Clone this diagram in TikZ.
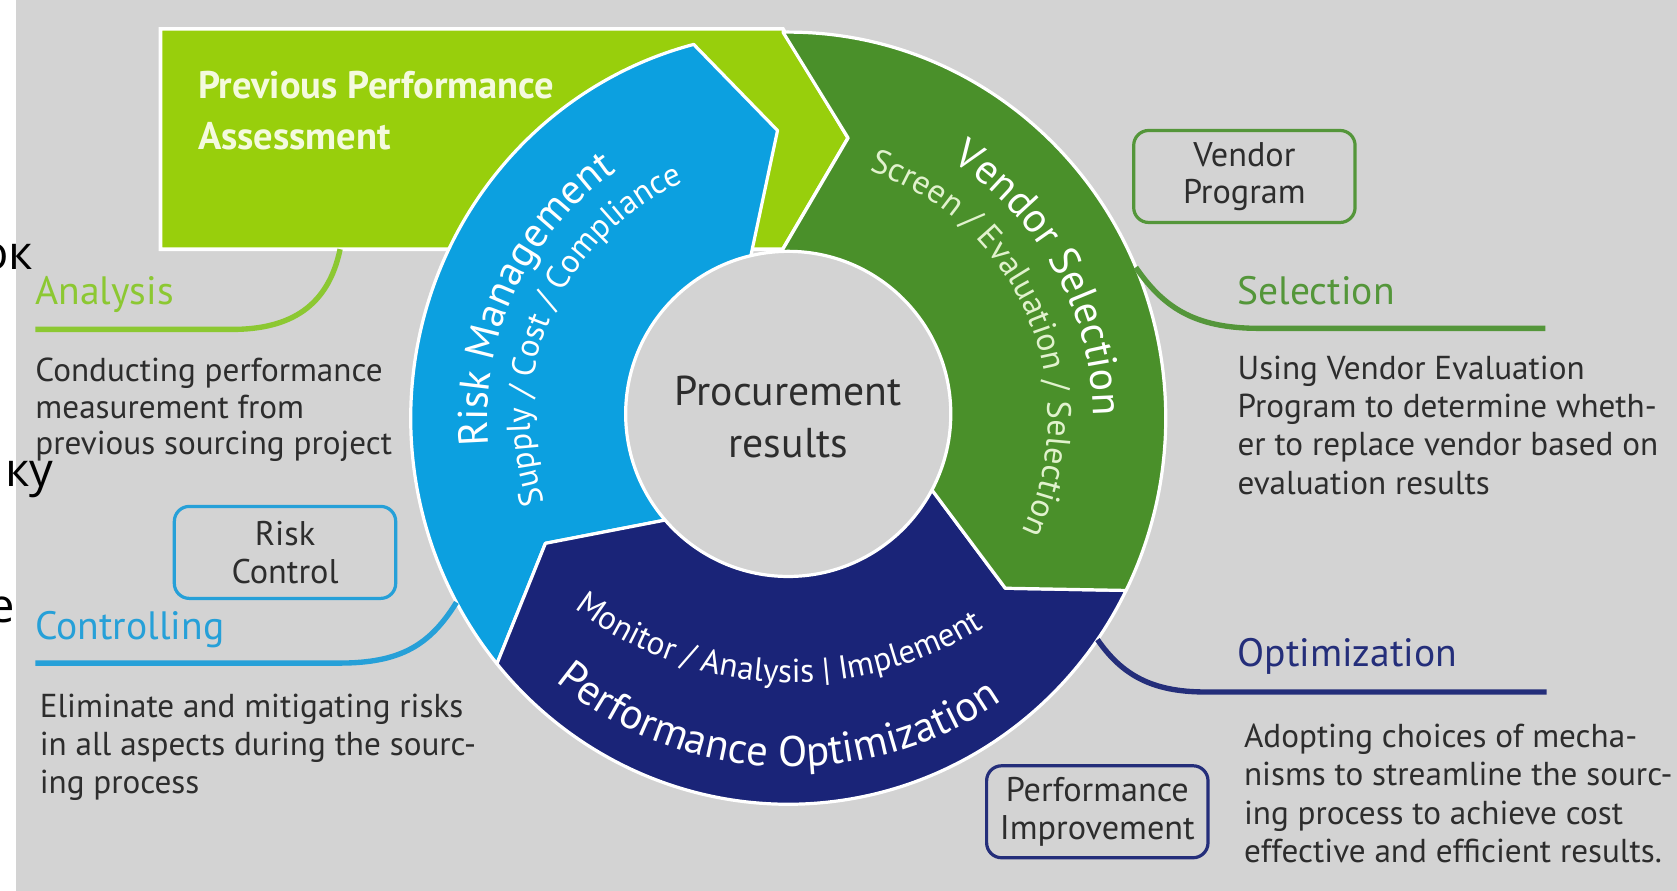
\documentclass[tikz,border=0pt]{standalone}
\usepackage{fontspec}
\setmainfont{PT Sans}
\newfontfamily\strayfont{Open Sans}
\usetikzlibrary{decorations.text,calc}
\newcommand\fsz[2]{\fontsize{#1}{#2}\selectfont}
\definecolor{bg}{RGB}{211,211,211}
\definecolor{limeg}{RGB}{152,207,12}
\definecolor{rmblue}{RGB}{12,160,224}
\definecolor{vgreen}{RGB}{74,144,42}
\definecolor{navy}{RGB}{26,36,120}
\definecolor{txt}{RGB}{45,45,45}
\definecolor{limetxt}{RGB}{140,200,50}
\definecolor{ctlblue}{RGB}{38,160,216}
\definecolor{selgreen}{RGB}{84,150,58}
\definecolor{optnavy}{RGB}{36,46,122}
\definecolor{paletxt}{RGB}{244,250,222}
\definecolor{palegreen}{RGB}{225,242,205}
\tikzset{
  bodytxt/.style={font=\fsz{31}{35}, text=txt, inner sep=0, anchor=base west},
  headtxt/.style={font=\fsz{37}{40}, inner sep=0, anchor=base west},
  tagbox/.style={rounded corners=14pt, line width=3pt, minimum width=207pt, minimum height=86pt, align=center, font=\fsz{32}{35}, text=txt, inner sep=0},
  seg/.style={draw=white, line width=3pt, line join=round},
  conn/.style={line width=5pt},
  stray/.style={font=\strayfont\fsz{44}{48}, text=black, inner sep=0, anchor=base east},
  boxtitle/.style={font=\bfseries\fsz{36}{40}, text=paletxt, inner sep=0, anchor=base west},
  centretxt/.style={font=\fsz{39}{44}, text=txt, inner sep=0, anchor=base},
}
\begin{document}
\begin{tikzpicture}[x=1pt,y=1pt]
\useasboundingbox (-737,-442) rectangle (831,391);
\begin{scope}
\clip (-737,-442) rectangle (831,391);
\fill[white] (-737,-442) rectangle (831,391);
\fill[bg] (-722,-442) rectangle (831,391);

% lime assessment box with arrow
\filldraw[fill=limeg, draw=white, line width=3.5pt, line join=miter] (-587,364) -- (-5,364) -- (56,262) -- (-5,158) -- (-587,158) -- cycle;
\node[boxtitle] (ppa1) at (-552,299) {Previous Performance};
\node[boxtitle] (ppa2) at (-552,251) {Assessment};

% ring segments
\filldraw[seg, fill=rmblue] (104.5:353 and 361) arc[start angle=104.5, end angle=219.5, x radius=353, y radius=361] -- (-227,-117) -- (219.5:150) -- (219.5:130) arc[start angle=219.5, end angle=104, radius=130] -- (104:150) -- (-10,269) -- cycle;
\filldraw[seg, fill=navy] (219.5:353 and 361) arc[start angle=219.5, end angle=333.5, x radius=353, y radius=361] -- (203,-159) -- (333.5:150) -- (333.5:130) arc[start angle=333.5, end angle=219.5, radius=130] -- (219.5:150) -- (-227,-117) -- cycle;
\filldraw[seg, fill=vgreen] (90.8:353 and 361) arc[start angle=90.8, end angle=-26.5, x radius=353, y radius=361] -- (203,-159) -- (-26.5:150) -- (-26.5:130) arc[start angle=-26.5, end angle=92, radius=130] -- (-5,158) -- (56,262) -- cycle;

% inner circle
\filldraw[fill=bg, draw=white, line width=3pt] (0,4) circle[radius=152];
\node[centretxt] (pr1) at (0,12) {Procurement};
\node[centretxt] (pr2) at (0,-37) {results};

% curved ring texts
\path[decorate, decoration={text along path, text align=center, text color=white, text={|\fsz{39}{40}|Risk Management}}] (200:281) arc[start angle=200, end angle=110, radius=281];
\path[decorate, decoration={text along path, text align=center, text color=white, text={|\fsz{31}{32}|Supply / Cost / Compliance}}] (226.5:241) arc[start angle=226.5, end angle=86.5, radius=241];
\path[decorate, decoration={text along path, text align=center, text color=white, text={|\fsz{39}{40}|Vendor Selection}}] (74:285) arc[start angle=74, end angle=-16, radius=285];
\path[decorate, decoration={text along path, text align=center, text color=palegreen, text={|\fsz{31.5}{32}|Screen / Evaluation / Selection}}] (88:243) arc[start angle=88, end angle=-42, radius=243];
\path[decorate, decoration={text along path, text align=center, text color=white, text={|\fsz{40}{42}|Performance Optimization}}] ($(3,20)+(212.5:346)$) arc[start angle=212.5, end angle=322.5, radius=346];
\path[decorate, decoration={text along path, text align=center, text color=white, text={|\fsz{31}{32}|Monitor / Analysis {\textbar} Implement}}] ($(4,90)+(212.4:337)$) arc[start angle=212.4, end angle=322.4, radius=337];

% left: analysis
\coordinate (anaTop) at (-419,158);
\coordinate (anaEnd) at (-704,83);
\draw[conn, limetxt] (anaTop) .. controls (-430,105) and (-465,83) .. (-520,83) -- (anaEnd);
\node[headtxt, text=limetxt] (ana) at (-704,106) {Analysis};
\node[bodytxt] (an1) at (-704,34) {Conducting performance};
\node[bodytxt] (an2) at (-704,0) {measurement from};
\node[bodytxt] (an3) at (-704,-34) {previous sourcing project};

% left: controlling
\node[tagbox, draw=ctlblue] (rc) at (-470.5,-125.5) {Risk\\Control};
\coordinate (ctlTop) at (208.5:353 and 361);
\coordinate (ctlEnd) at (-704,-229);
\draw[conn, ctlblue] (ctlTop) .. controls (-335,-212) and (-362,-229) .. (-420,-229) -- (ctlEnd);
\node[headtxt, text=ctlblue] (ctl) at (-704,-207) {Controlling};
\node[bodytxt] (ct1) at (-700,-280) {Eliminate and mitigating risks};
\node[bodytxt] (ct2) at (-700,-315) {in all aspects during the sourc-};
\node[bodytxt] (ct3) at (-700,-351) {ing process};

% right: selection
\node[tagbox, draw=selgreen] (vp) at (426.5,226) {Vendor\\Program};
\coordinate (selTop) at (23:353 and 361);
\coordinate (selEnd) at (708,84);
\draw[conn, selgreen] (selTop) .. controls (350,105) and (378,84) .. (440,84) -- (selEnd);
\node[headtxt, text=selgreen] (sel) at (420,106) {Selection};
\node[bodytxt] (se1) at (420,36) {Using Vendor Evaluation};
\node[bodytxt] (se2) at (420,1) {Program to determine wheth-};
\node[bodytxt] (se3) at (420,-35) {er to replace vendor based on};
\node[bodytxt] (se4) at (420,-71) {evaluation results};

% right: optimization
\node[tagbox, draw=optnavy] (pi) at (289,-368) {Performance\\Improvement};
\coordinate (optTop) at (-35:353 and 361);
\coordinate (optEnd) at (709,-256);
\draw[conn, optnavy] (optTop) .. controls (312,-240) and (340,-256) .. (390,-256) -- (optEnd);
\node[headtxt, text=optnavy] (opt) at (420,-232) {Optimization};
\node[bodytxt] (op1) at (426,-308) {Adopting choices of mecha-};
\node[bodytxt] (op2) at (426,-343) {nisms to streamline the sourc-};
\node[bodytxt] (op3) at (426,-380) {ing process to achieve cost};
\node[bodytxt] (op4) at (426,-415) {effective and efficient results.};

% stray fragments on the left edge
\node[stray] (s1) at (-706,139) {ок};
\node[stray] (s2) at (-687,-64) {ку};
\node[stray] (s3) at (-723,-191) {е};
\end{scope}
\end{tikzpicture}
\end{document}
